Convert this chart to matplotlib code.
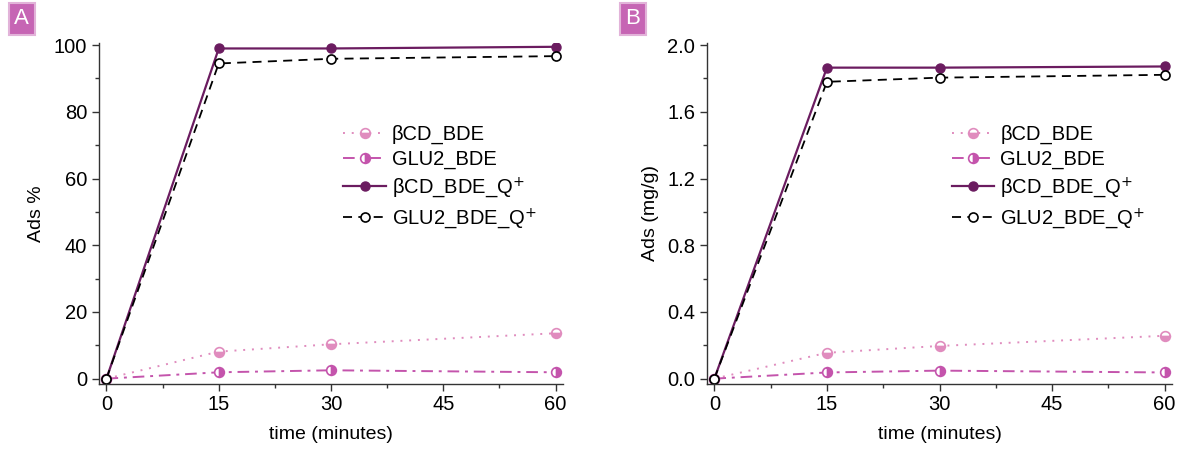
import matplotlib
matplotlib.use("Agg")
import matplotlib.pyplot as plt
from matplotlib.ticker import MultipleLocator

plt.rcParams["font.family"] = ["Liberation Sans", "DejaVu Sans"]

# data
time_min = [0, 15, 30, 60]
labels = ["βCD_BDE", "GLU2_BDE", "βCD_BDE_Q$^{+}$", "GLU2_BDE_Q$^{+}$"]

# panel A: Ads %
ads_pct_bcd = [0, 8.1, 10.3, 13.6]
ads_pct_glu2 = [0, 1.9, 2.5, 1.9]
ads_pct_bcd_q = [0, 99.0, 99.0, 99.5]
ads_pct_glu2_q = [0, 94.5, 95.9, 96.7]

# panel B: Ads (mg/g)
ads_mg_bcd = [0, 0.155, 0.196, 0.257]
ads_mg_glu2 = [0, 0.037, 0.048, 0.037]
ads_mg_bcd_q = [0, 1.865, 1.865, 1.872]
ads_mg_glu2_q = [0, 1.78, 1.805, 1.822]

C_LIGHT = "#E08CBE"
C_MID = "#C454AC"
C_DARK = "#6B1C60"


def draw_panel(ax, series, ylim, ymaj, ymin, ylabel, fmt):
    bcd, glu2, bcd_q, glu2_q = series
    ax.plot(time_min, bcd, ls=(0, (1, 3.5)), lw=1.4, color=C_LIGHT,
            marker="o", ms=7, fillstyle="bottom", markerfacecoloralt="white",
            mfc=C_LIGHT, mec=C_LIGHT, mew=1.2, label=labels[0])
    ax.plot(time_min, glu2, ls=(0, (6, 3, 1.5, 3)), lw=1.4, color=C_MID,
            marker="o", ms=7, fillstyle="right", markerfacecoloralt="white",
            mfc=C_MID, mec=C_MID, mew=1.2, label=labels[1])
    ax.plot(time_min, bcd_q, ls="-", lw=1.6, color=C_DARK,
            marker="o", ms=6.5, mfc=C_DARK, mec=C_DARK, label=labels[2])
    ax.plot(time_min, glu2_q, ls=(0, (5, 3.5)), lw=1.3, color="black",
            marker="o", ms=6.5, mfc="white", mec="black", mew=1.2,
            label=labels[3])

    ax.set_xlim(-1, 61)
    ax.set_ylim(*ylim)
    ax.xaxis.set_major_locator(MultipleLocator(15))
    ax.xaxis.set_minor_locator(MultipleLocator(7.5))
    ax.yaxis.set_major_locator(MultipleLocator(ymaj))
    ax.yaxis.set_minor_locator(MultipleLocator(ymin))
    ax.yaxis.set_major_formatter(fmt)
    for s in ["top", "right"]:
        ax.spines[s].set_visible(False)
    for s in ["left", "bottom"]:
        ax.spines[s].set_linewidth(1.0)
        ax.spines[s].set_color("#333333")
    ax.tick_params(which="major", direction="out", length=5, width=1.0,
                   labelsize=14.5, colors="#333333", labelcolor="black")
    ax.tick_params(which="minor", direction="out", length=3, width=1.0,
                   colors="#333333")
    ax.set_xlabel("time (minutes)", fontsize=14, labelpad=8)
    ax.set_ylabel(ylabel, fontsize=14, labelpad=6)
    ax.legend(loc="upper left", bbox_to_anchor=(0.505, 0.79), frameon=False,
              fontsize=14.5, handlelength=2.1, handletextpad=0.3,
              labelspacing=0.3, borderpad=0)


fig = plt.figure(figsize=(11.84, 4.54), dpi=100)
ax1 = fig.add_axes([0.0836, 0.155, 0.392, 0.75])
ax2 = fig.add_axes([0.597, 0.155, 0.393, 0.75])

draw_panel(ax1, (ads_pct_bcd, ads_pct_glu2, ads_pct_bcd_q, ads_pct_glu2_q),
           (-1.5, 100.6), 20, 10, "Ads %", "{x:.0f}")
draw_panel(ax2, (ads_mg_bcd, ads_mg_glu2, ads_mg_bcd_q, ads_mg_glu2_q),
           (-0.03, 2.012), 0.4, 0.2, "Ads (mg/g)", "{x:.1f}")

for x, letter in [(0.0182, "A"), (0.5345, "B")]:
    fig.text(x, 0.959, letter, color="white", fontsize=16, ha="center",
             va="center",
             bbox=dict(boxstyle="square,pad=0.25", fc="#C665B4", ec="#E2B3D9",
                       lw=1.5))

fig.savefig("out.png", dpi=100)
